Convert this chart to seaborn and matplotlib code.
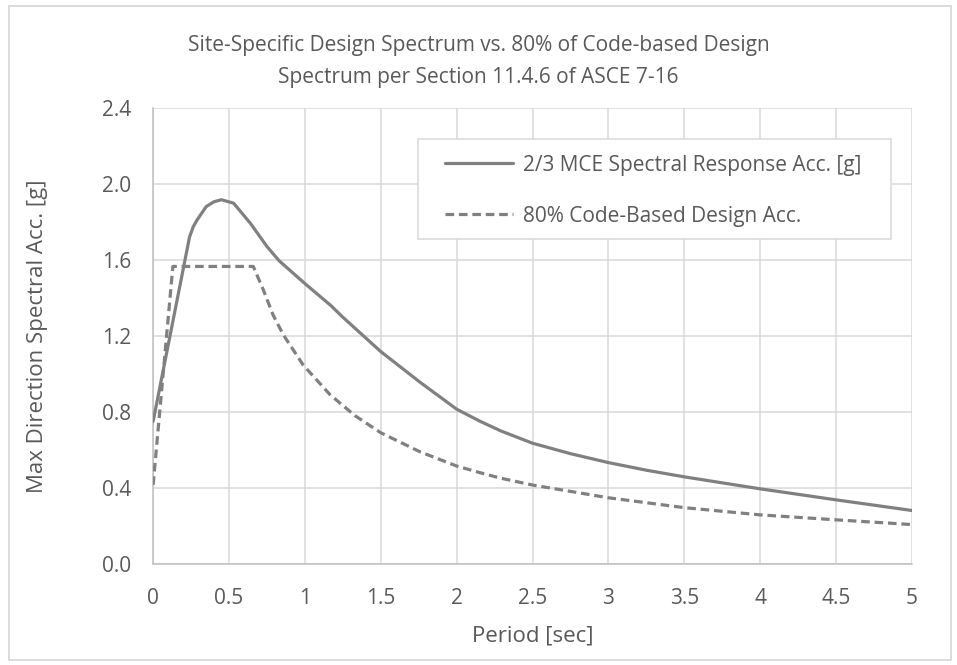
import pandas as pd
import numpy as np
import matplotlib.pyplot as plt
import seaborn as sns
from matplotlib.lines import Line2D
from matplotlib.patches import Rectangle

# values
mce_period = [0, 0.167, 0.24, 0.265, 0.29, 0.35, 0.40, 0.45, 0.53, 0.64, 0.75, 0.83, 1.0,
              1.17, 1.25, 1.5, 1.76, 2.0, 2.15, 2.29, 2.5, 2.75, 3.0, 3.25, 3.5,
              4.0, 4.5, 5.0]
mce_acc = [0.75, 1.425, 1.72, 1.775, 1.81, 1.88, 1.905, 1.916, 1.898, 1.793, 1.67, 1.595, 1.475,
           1.36, 1.298, 1.117, 0.955, 0.814, 0.752, 0.70, 0.635, 0.58, 0.533, 0.493, 0.458,
           0.395, 0.337, 0.281]

code_period = [0, 0.13, 0.66, 0.727, 0.79, 0.858, 0.99, 1.166, 1.33, 1.5, 1.758, 2.0,
               2.154, 2.285, 2.5, 3.0, 3.5, 4.0, 4.5, 5.0]
code_acc = [0.416, 1.565, 1.565, 1.44, 1.31, 1.205, 1.045, 0.89, 0.78, 0.69, 0.59, 0.515,
            0.48, 0.452, 0.415, 0.348, 0.296, 0.258, 0.232, 0.207]

labels = ['2/3 MCE Spectral Response Acc. [g]', '80% Code-Based Design Acc.']
title_lines = ['Site-Specific Design Spectrum vs. 80% of Code-based Design',
               'Spectrum per Section 11.4.6 of ASCE 7-16']
x_ticks = [0, 0.5, 1, 1.5, 2, 2.5, 3, 3.5, 4, 4.5, 5]
x_tick_labels = ['0', '0.5', '1', '1.5', '2', '2.5', '3', '3.5', '4', '4.5', '5']
y_ticks = [0.0, 0.4, 0.8, 1.2, 1.6, 2.0, 2.4]

sns.set_style('white')
plt.rcParams['font.family'] = ['Open Sans', 'DejaVu Sans']
text_col = '#595959'
line_col = '#808080'
grid_col = '#d9d9d9'

mce = pd.DataFrame({'Period': mce_period, 'Acc': mce_acc})
code = pd.DataFrame({'Period': code_period, 'Acc': code_acc})

fig = plt.figure(figsize=(9.57, 6.65), dpi=100)
ax = fig.add_axes([0.160, 0.152, 0.793, 0.686])

sns.lineplot(data=mce, x='Period', y='Acc', ax=ax, color=line_col, lw=2.3,
             sort=False, estimator=None, zorder=3)
sns.lineplot(data=code, x='Period', y='Acc', ax=ax, color=line_col, lw=2.3,
             sort=False, estimator=None, zorder=3)
ax.lines[-1].set_dashes((2.7, 1.5))
ax.lines[-1].set_dash_capstyle('butt')

ax.set_xlim(0, 5)
ax.set_ylim(0, 2.4)
ax.set_xticks(x_ticks)
ax.set_xticklabels(x_tick_labels)
ax.set_yticks(y_ticks)
ax.set_yticklabels([f'{v:.1f}' for v in y_ticks])
ax.grid(True, color=grid_col, lw=1.1)
ax.set_axisbelow(True)
for s in ['top', 'right']:
    ax.spines[s].set_visible(False)
for s in ['left', 'bottom']:
    ax.spines[s].set_color('#bfbfbf')
    ax.spines[s].set_linewidth(1.1)
ax.tick_params(axis='both', length=0, labelsize=15, colors=text_col)
ax.tick_params(axis='x', pad=17)
ax.tick_params(axis='y', pad=16)

ax.set_xlabel('Period [sec]', fontsize=16, color=text_col)
ax.set_ylabel('Max Direction Spectral Acc. [g]', fontsize=16, color=text_col)
ax.xaxis.set_label_coords(0.5, -0.136)
ax.yaxis.set_label_coords(-0.138, 0.5)

fig.text(0.5, 0.932, title_lines[0], ha='center', va='center', fontsize=15, color=text_col)
fig.text(0.5, 0.884, title_lines[1], ha='center', va='center', fontsize=15, color=text_col)

# legend box drawn separately so the padding can match the reference
ax.add_patch(Rectangle((0.349, 0.713), 0.623, 0.219, transform=ax.transAxes,
                       facecolor='white', edgecolor=grid_col, lw=1.1, zorder=2))
handles = [Line2D([], [], color=line_col, lw=2.3),
           Line2D([], [], color=line_col, lw=2.3, dashes=(2.7, 1.5), dash_capstyle='butt')]
leg = ax.legend(handles, labels, loc='upper left', bbox_to_anchor=(0.385, 0.897),
                borderaxespad=0, borderpad=0, fontsize=15, frameon=False,
                handlelength=3.27, handletextpad=0.48, labelspacing=1.44,
                labelcolor=text_col)

fig.patches.append(Rectangle((0.0094, 0.0075), 0.984, 0.983, transform=fig.transFigure,
                             fill=False, edgecolor=grid_col, lw=1.3))

fig.savefig('out.png', dpi=100)
